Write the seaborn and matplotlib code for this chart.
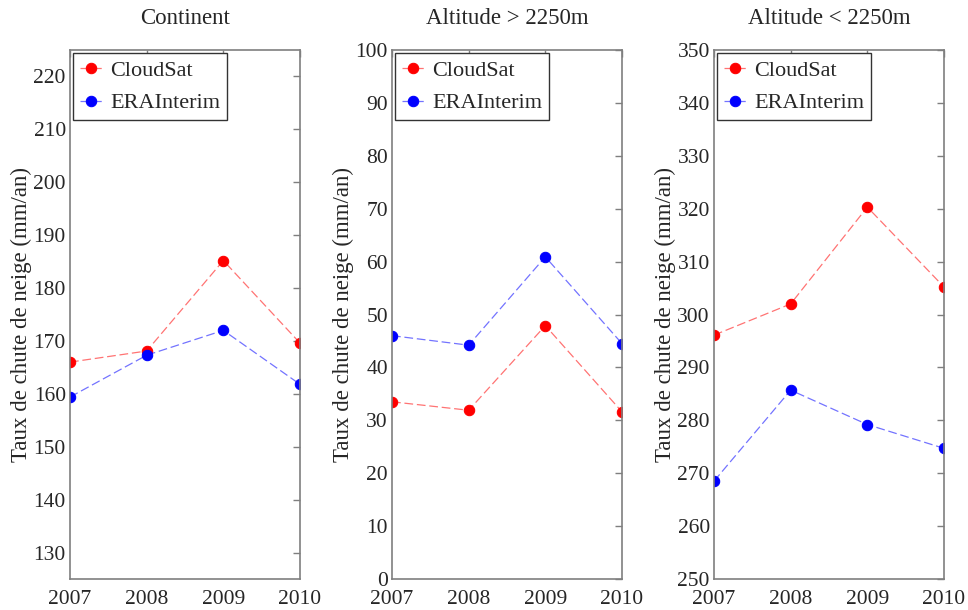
import seaborn as sns
import numpy as np
import pandas as pd
import matplotlib.pyplot as plt
from matplotlib.colors import to_rgba

years = [2007, 2008, 2009, 2010]
series_names = ["CloudSat", "ERAInterim"]
panel_titles = ["Continent", "Altitude > 2250m", "Altitude < 2250m"]

cloudsat_continent = [166.0, 168.1, 185.2, 169.6]
era_continent = [159.4, 167.3, 172.0, 161.8]
cloudsat_high = [33.5, 31.9, 47.9, 31.6]
era_high = [46.0, 44.2, 60.9, 44.5]
cloudsat_low = [296.1, 302.0, 320.3, 305.2]
era_low = [268.5, 285.7, 279.2, 274.7]

y_limits = [(125, 225), (0, 100), (250, 350)]
y_ticks = [np.arange(130, 221, 10), np.arange(0, 101, 10), np.arange(250, 351, 10)]

panels = [
    (cloudsat_continent, era_continent),
    (cloudsat_high, era_high),
    (cloudsat_low, era_low),
]

sns.set_theme(style="white")
plt.rcParams["font.family"] = ["Liberation Serif", "DejaVu Serif"]
plt.rcParams["font.size"] = 16

palette = {"CloudSat": "red", "ERAInterim": "blue"}
spine_col = "#7f7f7f"

fig = plt.figure(figsize=(9.68, 6.10), dpi=100)
lefts = [70 / 968, 392 / 968, 714 / 968]
width = 230 / 968
bottom = 31 / 610
height = 529 / 610

for i, (cs, era) in enumerate(panels):
    ax = fig.add_axes([lefts[i], bottom, width, height])
    df = pd.DataFrame({
        "year": years * 2,
        "value": list(cs) + list(era),
        "source": ["CloudSat"] * len(years) + ["ERAInterim"] * len(years),
    })
    sns.lineplot(data=df, x="year", y="value", hue="source", hue_order=series_names,
                 palette=palette, marker="o", markersize=7.5, linewidth=0.9,
                 legend=False, ax=ax)
    for line in ax.lines:
        c = line.get_color()
        line.set_markerfacecolor(c)
        line.set_markeredgecolor(c)
        line.set_color(to_rgba(c, 0.55))
        line.set_linestyle((0, (7, 3)))

    ax.set_xlim(2007, 2010)
    ax.set_ylim(*y_limits[i])
    ax.set_xticks(years)
    ax.set_yticks(y_ticks[i])
    ax.set_xlabel("")
    ax.set_ylabel("Taux de chute de neige (mm/an)", fontsize=16.5, labelpad=1)
    ax.set_title(panel_titles[i], fontsize=16.5, pad=19)
    ax.tick_params(direction="in", length=5, width=1, color=spine_col,
                   top=True, right=True, labelsize=15.5, pad=3)
    ax.tick_params(axis="x", pad=8)
    for sp in ax.spines.values():
        sp.set_color(spine_col)
        sp.set_linewidth(1.2)

    leg = ax.legend(handles=ax.lines[:2], labels=series_names, loc="upper left",
                    fancybox=False, edgecolor="#333333", framealpha=1,
                    fontsize=16, handlelength=1.0, handletextpad=0.35,
                    borderaxespad=0.15, borderpad=0.3, labelspacing=0.55)
    leg.get_frame().set_linewidth(1.0)

fig.savefig("out.png", dpi=100)
